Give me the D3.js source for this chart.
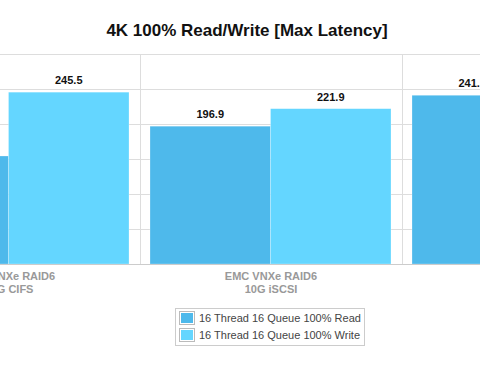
<!DOCTYPE html>
<html>
<head>
<meta charset="utf-8">
<script src="https://cdn.jsdelivr.net/npm/d3@7"></script>
<style>
  body { margin: 0; background: #fff; }
  svg { display: block; font-family: "Liberation Sans", Arial, Helvetica, sans-serif; }
</style>
</head>
<body>
<div id="chart"></div>
<script>
const categories = ['EMC VNXe RAID6|10G CIFS', 'EMC VNXe RAID6|10G iSCSI', 'EMC VNXe RAID6|10G NFS'];
const seriesNames = ['16 Thread 16 Queue 100% Read', '16 Thread 16 Queue 100% Write'];
const readValues = [154.3, 196.9, 241.1];
const writeValues = [245.5, 221.9, 232.6];
const yTicks = [0, 50, 100, 150, 200, 250, 300];
const colors = ['#4eb9eb', '#64d6ff'];

const width = 480;
const height = 378;

const svg = d3.select('#chart')
  .append('svg')
  .attr('width', width)
  .attr('height', height);

// the plot is wider than the window, only part of it is seen
const x0 = d3.scaleBand()
  .domain(categories)
  .range([-122, 664]);

const x1 = d3.scaleBand()
  .domain(seriesNames)
  .range([10, 251]);

const y = d3.scaleLinear()
  .domain([0, 300])
  .range([264, 54]);

svg.append('text')
  .attr('x', 247)
  .attr('y', 36)
  .attr('text-anchor', 'middle')
  .style('font-size', '17px')
  .style('font-weight', 'bold')
  .attr('fill', '#111')
  .text('4K 100% Read/Write [Max Latency]');

// horizontal grid
svg.append('g')
  .selectAll('line')
  .data(yTicks.slice(1))
  .enter().append('line')
  .attr('x1', 0)
  .attr('x2', width)
  .attr('y1', (d) => Math.round(y(d)) + 0.5)
  .attr('y2', (d) => Math.round(y(d)) + 0.5)
  .attr('stroke', '#dddddd');

// vertical grid at category boundaries
svg.append('g')
  .selectAll('line')
  .data(categories.slice(1))
  .enter().append('line')
  .attr('x1', (d) => Math.round(x0(d)) + 0.5)
  .attr('x2', (d) => Math.round(x0(d)) + 0.5)
  .attr('y1', y(300))
  .attr('y2', y(0))
  .attr('stroke', '#dddddd');

const rows = categories.map((c, i) => ({
  cat: c,
  vals: [readValues[i], writeValues[i]],
}));

const groups = svg.selectAll('.group')
  .data(rows)
  .enter().append('g')
  .attr('class', 'group')
  .attr('transform', (d) => `translate(${x0(d.cat)},0)`);

groups.selectAll('rect')
  .data((d) => d.vals.map((v, i) => ({ s: seriesNames[i], v, i })))
  .enter().append('rect')
  .attr('x', (d) => x1(d.s))
  .attr('width', x1.bandwidth())
  .attr('y', (d) => y(d.v))
  .attr('height', (d) => y(0) - y(d.v))
  .attr('fill', (d) => colors[d.i])
  .attr('stroke', 'rgba(255,255,255,0.5)')
  .attr('stroke-width', 0.5);

groups.selectAll('.val')
  .data((d) => d.vals.map((v, i) => ({ s: seriesNames[i], v })))
  .enter().append('text')
  .attr('class', 'val')
  .attr('x', (d) => x1(d.s) + x1.bandwidth() / 2)
  .attr('y', (d) => y(d.v) - 8)
  .attr('text-anchor', 'middle')
  .style('font-size', '11px')
  .style('font-weight', 'bold')
  .attr('fill', '#111')
  .text((d) => d.v.toFixed(1));

// baseline
svg.append('line')
  .attr('x1', 0)
  .attr('x2', width)
  .attr('y1', y(0) + 0.5)
  .attr('y2', y(0) + 0.5)
  .attr('stroke', '#cccccc');

// category labels
const labels = svg.selectAll('.cat')
  .data(categories)
  .enter().append('text')
  .attr('class', 'cat')
  .attr('text-anchor', 'middle')
  .style('font-size', '11px')
  .style('font-weight', 'bold')
  .attr('fill', '#999999')
  .attr('transform', (d) => `translate(${x0(d) + x0.bandwidth() / 2},0)`);

labels.selectAll('tspan')
  .data((d) => d.split('|'))
  .enter().append('tspan')
  .attr('x', 0)
  .attr('y', (d, i) => 280 + i * 13)
  .text((d) => d);

// legend
const legend = svg.append('g')
  .attr('transform', 'translate(175,308)');

legend.append('rect')
  .attr('x', 0.5)
  .attr('y', 0.5)
  .attr('width', 189)
  .attr('height', 37)
  .attr('fill', '#fff')
  .attr('stroke', '#cccccc');

const items = legend.selectAll('.item')
  .data(seriesNames)
  .enter().append('g')
  .attr('class', 'item')
  .attr('transform', (d, i) => `translate(4,${3 + i * 17})`);

items.append('rect')
  .attr('x', 0.5)
  .attr('y', 0.5)
  .attr('width', 15)
  .attr('height', 13)
  .attr('fill', '#fff')
  .attr('stroke', '#bbbbbb');

items.append('rect')
  .attr('x', 2)
  .attr('y', 2)
  .attr('width', 12)
  .attr('height', 10)
  .attr('fill', (d, i) => colors[i]);

items.append('text')
  .attr('x', 20)
  .attr('y', 11)
  .style('font-size', '11px')
  .attr('fill', '#444')
  .text((d) => d);
</script>
</body>
</html>
